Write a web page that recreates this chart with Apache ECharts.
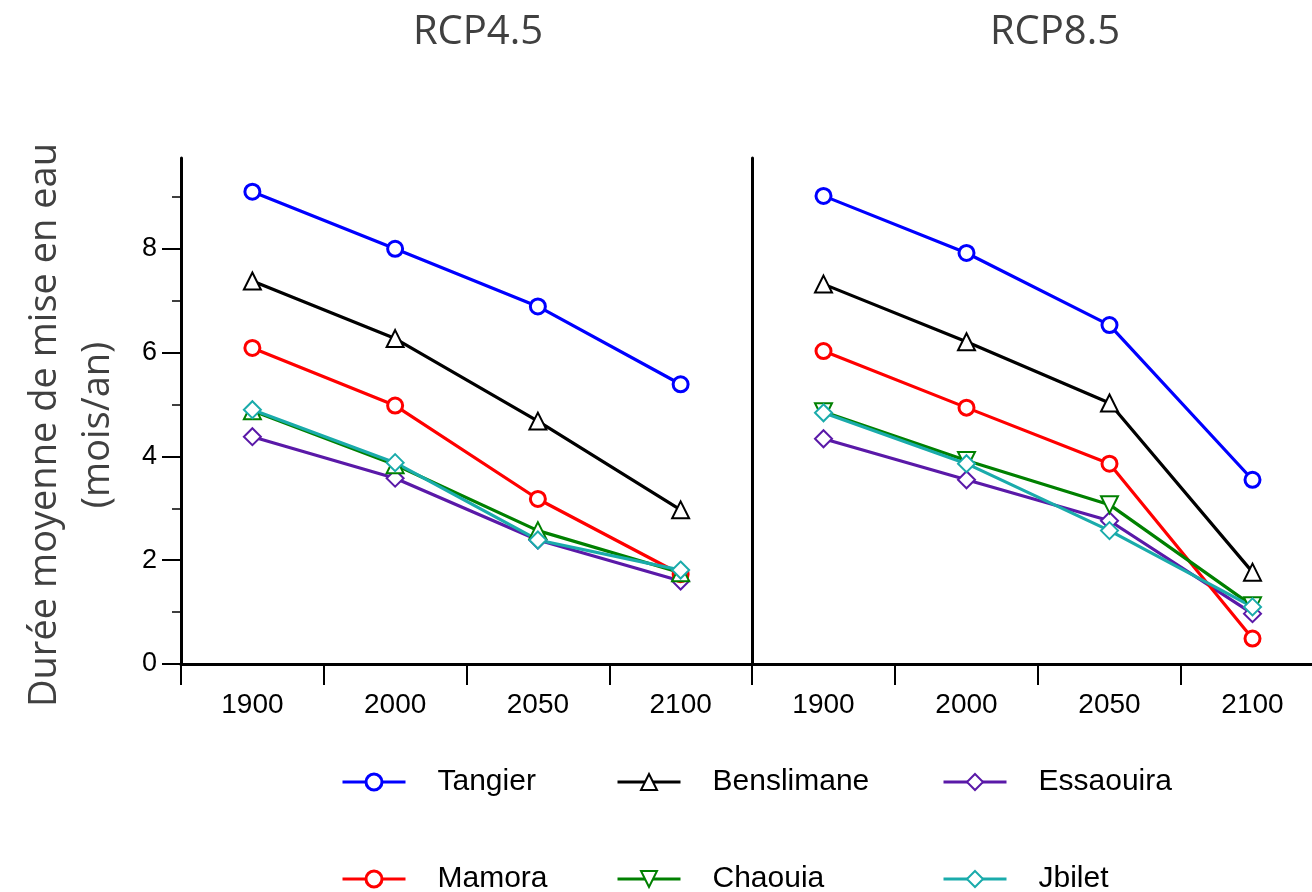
<!DOCTYPE html>
<html>
<head>
<meta charset="utf-8">
<script src="https://cdn.jsdelivr.net/npm/echarts@6/dist/echarts.min.js"></script>
<style>
html,body{margin:0;padding:0;background:#fff;}
#chart{width:1312px;height:892px;}
</style>
</head>
<body>
<div id="chart"></div>
<script>
// ---- data ----
const years = ['1900', '2000', '2050', '2100'];
const panelTitles = ['RCP4.5', 'RCP8.5'];
const yTicksMajor = [0, 2, 4, 6, 8];
const yTicksMinor = [1, 3, 5, 7, 9];
const yTitle = 'Durée moyenne de mise en eau\n(mois/an)';
const stations = ['Tangier', 'Benslimane', 'Essaouira', 'Mamora', 'Chaouia', 'Jbilet'];

const rcp45_Tangier    = [9.10, 8.00, 6.89, 5.39];
const rcp45_Benslimane = [7.38, 6.27, 4.68, 2.97];
const rcp45_Essaouira  = [4.38, 3.58, 2.39, 1.60];
const rcp45_Mamora     = [6.09, 4.98, 3.18, 1.73];
const rcp45_Chaouia    = [4.88, 3.84, 2.57, 1.76];
const rcp45_Jbilet     = [4.90, 3.88, 2.39, 1.81];

const rcp85_Tangier    = [9.02, 7.92, 6.53, 3.55];
const rcp85_Benslimane = [7.32, 6.21, 5.03, 1.77];
const rcp85_Essaouira  = [4.34, 3.55, 2.76, 0.97];
const rcp85_Mamora     = [6.03, 4.94, 3.86, 0.49];
const rcp85_Chaouia    = [4.86, 3.92, 3.07, 1.12];
const rcp85_Jbilet     = [4.84, 3.86, 2.57, 1.10];

// ---- styling ----
const colors = {
  Tangier: '#0000ff', Benslimane: '#000000', Essaouira: '#5a19a8',
  Mamora: '#ff0000', Chaouia: '#008000', Jbilet: '#1aabab'
};
const symbols45 = {
  Tangier: ['circle', 0], Benslimane: ['triangle', 0], Essaouira: ['diamond', 0],
  Mamora: ['circle', 0], Chaouia: ['triangle', 0], Jbilet: ['diamond', 0]
};
const symbols85 = {
  Tangier: ['circle', 0], Benslimane: ['triangle', 0], Essaouira: ['diamond', 0],
  Mamora: ['circle', 0], Chaouia: ['triangle', 180], Jbilet: ['diamond', 0]
};
const data45 = {Tangier: rcp45_Tangier, Benslimane: rcp45_Benslimane, Essaouira: rcp45_Essaouira,
  Mamora: rcp45_Mamora, Chaouia: rcp45_Chaouia, Jbilet: rcp45_Jbilet};
const data85 = {Tangier: rcp85_Tangier, Benslimane: rcp85_Benslimane, Essaouira: rcp85_Essaouira,
  Mamora: rcp85_Mamora, Chaouia: rcp85_Chaouia, Jbilet: rcp85_Jbilet};

const YMAX = 9.75;
const labelFont = 'Liberation Sans, Arial, sans-serif';
const titleFont = 'Open Sans, sans-serif';

function mkSeries(name, vals, xi, yi, sym) {
  const thin = (sym[0] !== 'circle');
  return {
    name: name, type: 'line', xAxisIndex: xi, yAxisIndex: yi,
    data: vals, symbol: sym[0], symbolRotate: sym[1],
    symbolSize: sym[0] === 'circle' ? 15 : 17,
    showAllSymbol: true,
    lineStyle: {color: colors[name], width: 3.2},
    itemStyle: {color: '#ffffff', borderColor: colors[name], borderWidth: thin ? 2 : 3},
    emphasis: {disabled: true}, animation: false
  };
}

const series = [];
stations.forEach(n => series.push(mkSeries(n, data45[n], 0, 0, symbols45[n])));
stations.forEach(n => series.push(mkSeries(n, data85[n], 1, 2, symbols85[n])));

function xAxis(gi) {
  return {
    type: 'category', gridIndex: gi, data: years, boundaryGap: true,
    axisLine: {show: true, onZero: false, lineStyle: {color: '#000', width: 3}},
    axisTick: {show: true, length: 21, lineStyle: {color: '#000', width: 2}},
    axisLabel: {color: '#000', fontFamily: labelFont, fontSize: 28, margin: 27}
  };
}

const legendPos = {
  Tangier: [341, 767], Benslimane: [616, 767], Essaouira: [942, 767],
  Mamora: [341, 864], Chaouia: [616, 864], Jbilet: [942, 864]
};
const legends = stations.map(n => ({
  left: legendPos[n][0], top: legendPos[n][1], padding: 0,
  data: [{
    name: n,
    symbolRotate: symbols85[n][1],
    itemStyle: {color: '#ffffff', borderColor: colors[n], borderWidth: symbols85[n][0] === 'circle' ? 3 : 2},
    lineStyle: {color: colors[n], width: 3}
  }],
  orient: 'horizontal', itemWidth: 63, itemHeight: 20, selectedMode: false,
  textStyle: {color: '#000', fontFamily: labelFont, fontSize: 30, lineHeight: 30, padding: [0, 0, 0, 27]}
}));

const option = {
  backgroundColor: '#fff',
  animation: false,
  grid: [
    {left: 181, top: 158, width: 571, height: 506, outerBoundsMode: 'none', containLabel: false},
    {left: 752, top: 158, width: 572, height: 506, outerBoundsMode: 'none', containLabel: false}
  ],
  xAxis: [xAxis(0), xAxis(1)],
  yAxis: [
    { type: 'value', gridIndex: 0, min: 0, max: YMAX,
      axisLine: {show: true, lineStyle: {color: '#000', width: 3}},
      axisTick: {show: true, length: 19, customValues: yTicksMajor, lineStyle: {color: '#000', width: 2}},
      axisLabel: {show: true, customValues: yTicksMajor, color: '#000', fontFamily: labelFont, fontSize: 27, margin: 24},
      splitLine: {show: false}
    },
    { type: 'value', gridIndex: 0, min: 0, max: YMAX, position: 'left',
      axisLine: {show: false},
      axisTick: {show: true, length: 9, customValues: yTicksMinor, lineStyle: {color: '#000', width: 1.5}},
      axisLabel: {show: false}, splitLine: {show: false}
    },
    { type: 'value', gridIndex: 1, min: 0, max: YMAX,
      axisLine: {show: true, lineStyle: {color: '#000', width: 3}},
      axisTick: {show: false}, axisLabel: {show: false}, splitLine: {show: false}
    }
  ],
  legend: legends,
  graphic: [
    {type: 'text', x: 478, y: 33, style: {text: panelTitles[0], align: 'center', verticalAlign: 'middle',
      fill: '#404040', font: '40px ' + titleFont}},
    {type: 'text', x: 1055, y: 33, style: {text: panelTitles[1], align: 'center', verticalAlign: 'middle',
      fill: '#404040', font: '40px ' + titleFont}},
    {type: 'text', x: 72, y: 425, rotation: Math.PI / 2,
      style: {text: yTitle, align: 'center', verticalAlign: 'middle', fill: '#404040',
        font: '38px ' + titleFont, lineHeight: 53}}
  ],
  series: series
};

const chart = echarts.init(document.getElementById('chart'), null, {renderer: 'canvas'});
chart.setOption(option);
</script>
</body>
</html>
